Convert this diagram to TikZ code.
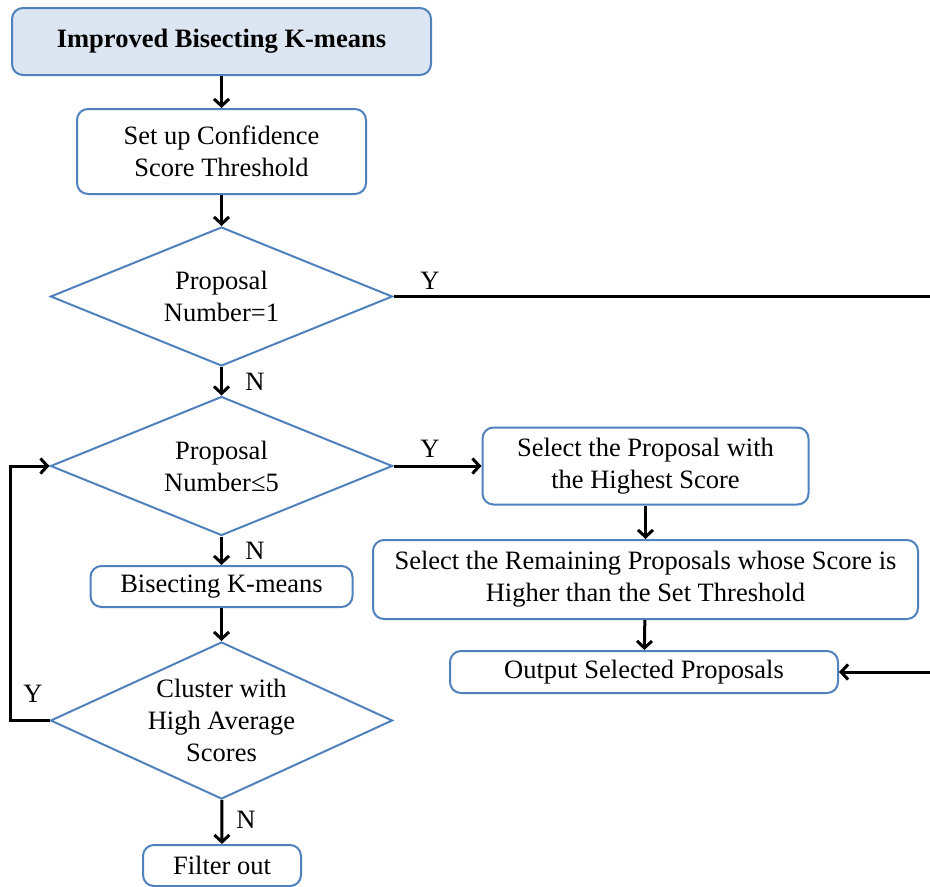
\documentclass[tikz,border=0pt]{standalone}
\usepackage{fontspec}
\setmainfont{Liberation Serif}
\usetikzlibrary{arrows.meta,positioning,shapes.geometric}
\definecolor{boxblue}{HTML}{4F81BD}
\definecolor{titlefill}{HTML}{DCE6F2}

\begin{document}
\begin{tikzpicture}[x=1pt, y=-1pt, font=\fontsize{26.5}{32}\selectfont,
  box/.style={draw=boxblue, line width=2pt, rounded corners=11pt, align=center, inner sep=0pt},
  decision/.style={draw=boxblue, line width=2pt, diamond, aspect=2.4, inner sep=-14pt, align=center},
  arrow/.style={-{Straight Barb[length=7pt,width=15pt]}, line width=3pt},
  line/.style={line width=3pt}]
\useasboundingbox (0,0) rectangle (930,887);
\node[box, fill=titlefill, minimum width=419, minimum height=67, font=\fontsize{26.5}{32}\selectfont\bfseries] (title) at (221.5,41.5) {Improved Bisecting K-means};
\node[box, minimum width=289, minimum height=85] (conf) at (221.5,151.5) {Set up Confidence\\Score Threshold};
\node[decision, minimum width=342, minimum height=139] (one) at (221.5,296.5) {Proposal\\Number=1};
\node[decision, minimum width=342, minimum height=139] (five) at (221.5,466) {Proposal\\Number≤5};
\node[box, minimum width=262, minimum height=41] (bis) at (221.5,586.5) {Bisecting K-means};
\node[decision, minimum width=342, minimum height=157] (clus) at (221.5,720.5) {Cluster with\\High Average\\Scores};
\node[box, minimum width=158, minimum height=41] (filt) at (222,865.5) {Filter out};
\node[box, minimum width=326, minimum height=77] (best) at (645.5,466) {Select the Proposal with\\the Highest Score};
\node[box, minimum width=545, minimum height=79] (rest) at (645.5,579.5) {Select the Remaining Proposals whose Score is\\Higher than the Set Threshold};
\node[box, minimum width=388, minimum height=42] (out) at (644,672) {Output Selected Proposals};
\coordinate (edgeA) at (930,296.5);
\coordinate (edgeB) at (930,672);
% branch labels
\node (yone) at (430,281) {Y};
\node (none) at (255,382) {N};
\node (yfive) at (430,449) {Y};
\node (nfive) at (255,551) {N};
\node (yclus) at (33,694) {Y};
\node (nclus) at (246,820) {N};
% connectors
\draw[arrow] (title) -- (conf);
\draw[arrow] (conf) -- (one);
\draw[arrow] (one) -- (five);
\draw[arrow] (five) -- (bis);
\draw[arrow] (bis) -- (clus);
\draw[arrow] (clus) -- (filt);
\draw[arrow] (five.east) -- (best.west);
\draw[arrow] (best) -- (rest);
\draw[arrow] (rest) -- (out);
\draw[arrow] (clus.west) -- ++(-39,0) |- (five.west);
\draw[line] (one.east) -- (edgeA);
\draw[arrow] (edgeB) -- (out.east);
\end{tikzpicture}
\end{document}
